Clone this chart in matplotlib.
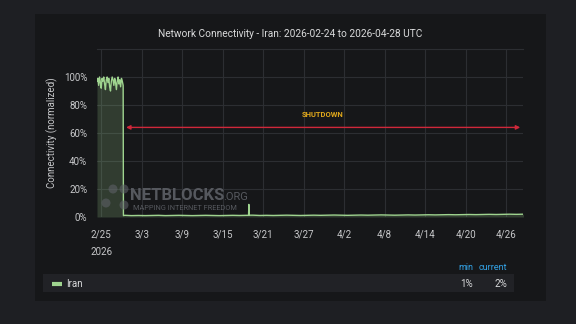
import matplotlib.pyplot as plt
import matplotlib.patches as patches
import pandas as pd

# pre-shutdown, every 3 hours from 2026-02-24 09:00
pre_vals = [97, 99, 94, 100, 96, 92, 99, 97, 100, 95, 91, 98, 100, 96, 99, 93,
            90, 97, 100, 98, 94, 99, 96, 91, 97, 100, 95, 98, 93, 99, 97, 94]
# after the drop, daily from 2026-02-28 12:00
post_vals = [1.2, 1.0, 1.1, 1.0, 1.1, 1.2, 1.0, 1.1, 1.2, 1.1, 1.0, 1.1, 1.2, 1.1,
             1.0, 1.1, 1.2, 1.1, 1.2, 1.3, 1.1, 1.2, 1.1, 1.2, 1.3, 1.2, 1.1, 1.2,
             1.3, 1.2, 1.3, 1.4, 1.3, 1.2, 1.3, 1.4, 1.3, 1.4, 1.5, 1.4, 1.3, 1.4,
             1.5, 1.4, 1.5, 1.6, 1.5, 1.6, 1.7, 1.6, 1.7, 1.8, 1.7, 1.8, 1.9, 1.8,
             1.9, 2.0, 1.9, 2.0, 2.0]
spike_times = ['2026-03-18 20:00', '2026-03-18 21:00', '2026-03-18 22:00']
spike_vals = [1.2, 9.0, 1.3]

shutdown_start = pd.Timestamp('2026-02-28 06:30')
t_end = pd.Timestamp('2026-04-28 12:00')
tick_dates = ['2026-02-25', '2026-03-03', '2026-03-09', '2026-03-15', '2026-03-21', '2026-03-27',
              '2026-04-02', '2026-04-08', '2026-04-14', '2026-04-20', '2026-04-26']
tick_labels = ['2/25\n2026', '3/3', '3/9', '3/15', '3/21', '3/27', '4/2', '4/8', '4/14', '4/20', '4/26']

pre = pd.Series(pre_vals, index=pd.date_range('2026-02-24 09:00', periods=len(pre_vals), freq='3h'))
post = pd.Series(post_vals, index=pd.date_range('2026-02-28 12:00', periods=len(post_vals), freq='D'))
spike = pd.Series(spike_vals, index=pd.to_datetime(spike_times))
drop = pd.Series([1.0], index=[pd.Timestamp('2026-02-28 07:00')])
s = pd.concat([pre, drop, post, spike]).sort_index()

plt.rcParams['font.family'] = ['Roboto', 'DejaVu Sans']
bg_out = '#1e1f23'
panel = '#161719'
txt = '#c7c8ca'
grid = '#2c2e32'
green = '#9fd48f'

fig = plt.figure(figsize=(5.76, 3.24), dpi=100, facecolor=bg_out)
W, H = 576, 324

def px(x, y):
    return x / W, 1 - y / H

# dashboard panel
x0, y0 = px(35, 301)
fig.patches.append(patches.Rectangle((x0, y0), (546 - 35) / W, (301 - 14) / H,
                                     transform=fig.transFigure, facecolor=panel, edgecolor='none', zorder=-2))
lx, ly = px(43, 292)
fig.patches.append(patches.Rectangle((lx, ly), (514 - 43) / W, 18 / H, transform=fig.transFigure,
                                     facecolor='#212226', edgecolor='none', zorder=-1))

ax = fig.add_axes([97 / W, 1 - 217 / H, (523 - 97) / W, (217 - 49) / H])
ax.set_zorder(1)
ax.set_facecolor(panel)
ax.plot(s.index, s.values, color=green, lw=1.0, zorder=3)
ax.fill_between(s.index, 0, s.values, color=green, alpha=0.2, lw=0, zorder=2)

ax.set_xlim(pd.Timestamp('2026-02-24 09:00'), t_end)
ax.set_ylim(0, 120)
ax.set_yticks([0, 20, 40, 60, 80, 100])
ax.set_yticklabels(['0%', '20%', '40%', '60%', '80%', '100%'])
ax.set_xticks(pd.to_datetime(tick_dates))
ax.set_xticklabels(tick_labels, linespacing=1.9, va='top')
ax.tick_params(axis='both', length=0, colors=txt, labelsize=7)
ax.tick_params(axis='y', pad=7)
ax.tick_params(axis='x', pad=9)
ax.grid(True, color=grid, lw=0.8)
for sp in ['left', 'right', 'bottom']:
    ax.spines[sp].set_visible(False)
ax.spines['top'].set_color(grid)
ax.set_ylabel('Connectivity (normalized)', color=txt, fontsize=7, labelpad=4)

# shutdown annotation
ax.annotate('', xy=(t_end, 64), xytext=(shutdown_start, 64),
            arrowprops=dict(arrowstyle='<|-|>', color='#d0283a', lw=1.0, mutation_scale=6), zorder=4)
mid = shutdown_start + (t_end - shutdown_start) / 2
ax.text(mid, 73, 'SHUTDOWN', color='#e0a81c', fontsize=5.5, fontweight='bold', ha='center', va='center', zorder=4)

# watermark
wm = '#5d6066'
fig.text(130 / W, 1 - 195 / H, 'NETBLOCKS', color=wm, fontsize=12, fontweight='bold', va='center', ha='left',
         alpha=0.9, zorder=5)
fig.text(223 / W, 1 - 197 / H, '.ORG', color=wm, fontsize=8, va='center', ha='left', alpha=0.9, zorder=5)
fig.text(133 / W, 1 - 209 / H, 'MAPPING INTERNET FREEDOM', color=wm, fontsize=5.3, va='center', ha='left',
         alpha=0.9, zorder=5)
for (cx, cy) in [(106, 203), (113, 189), (124, 189), (124, 205)]:
    fig.patches.append(patches.Circle((cx / 100, (H - cy) / 100), 0.045, transform=fig.dpi_scale_trans,
                                      facecolor=wm, edgecolor='none', alpha=0.6, zorder=5))

# title
fig.text(290 / W, 1 - 34 / H, 'Network Connectivity - Iran: 2026-02-24 to 2026-04-28 UTC',
         color='#d8d9da', fontsize=7.3, ha='center', va='center')

# legend table
fig.lines.append(plt.Line2D([52 / W, 62 / W], [1 - 283.5 / H] * 2, transform=fig.transFigure,
                            color=green, lw=3, solid_capstyle='butt'))
fig.text(66 / W, 1 - 284 / H, 'Iran', color='#d8d9da', fontsize=7, va='center', ha='left')
fig.text(473 / W, 1 - 267 / H, 'min', color='#33a2e5', fontsize=6.5, va='center', ha='right')
fig.text(507 / W, 1 - 267 / H, 'current', color='#33a2e5', fontsize=6.5, va='center', ha='right')
fig.text(473 / W, 1 - 284 / H, '1%', color='#d8d9da', fontsize=7, va='center', ha='right')
fig.text(507 / W, 1 - 284 / H, '2%', color='#d8d9da', fontsize=7, va='center', ha='right')

fig.savefig('out.png', dpi=100, facecolor=bg_out)
